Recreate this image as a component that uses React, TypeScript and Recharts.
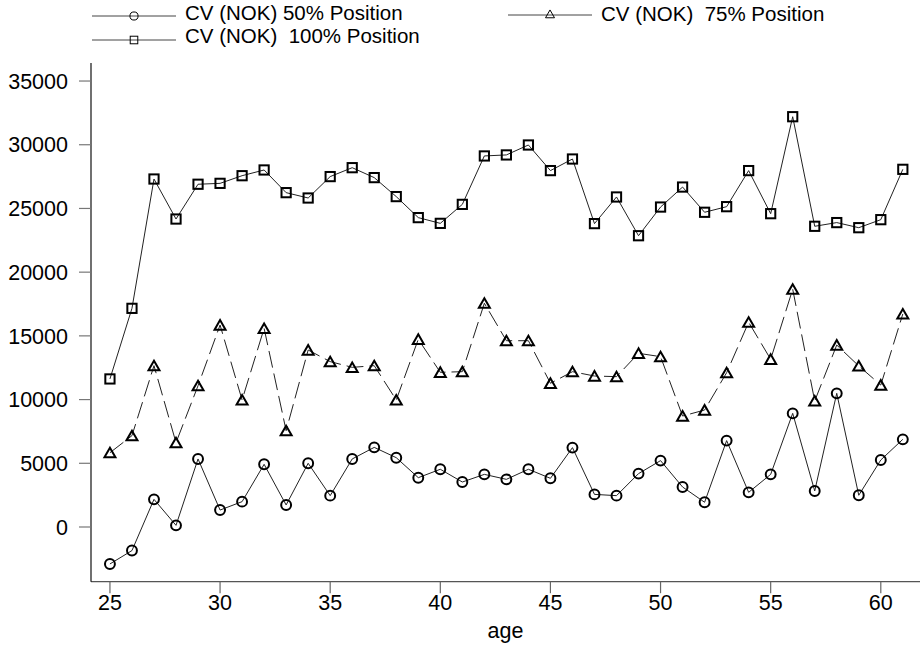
import React from 'react';
import { Legend, Line, LineChart, XAxis, YAxis } from 'recharts';

const AGES = [
  25, 26, 27, 28, 29, 30, 31, 32, 33, 34, 35, 36, 37, 38, 39, 40, 41, 42, 43,
  44, 45, 46, 47, 48, 49, 50, 51, 52, 53, 54, 55, 56, 57, 58, 59, 60, 61,
];

const CV_50 = [
  -2900, -1850, 2170, 130, 5340, 1330, 1990, 4920, 1730, 5000, 2460, 5340, 6250,
  5440, 3870, 4530, 3530, 4130, 3740, 4530, 3820, 6230, 2560, 2460, 4190, 5210,
  3140, 1940, 6780, 2720, 4130, 8920, 2830, 10490, 2490, 5260, 6880,
];

const CV_75 = [
  5830, 7170, 12660, 6620, 11090, 15850, 9970, 15590, 7560, 13890, 12980, 12530,
  12660, 9970, 14730, 12140, 12190, 17560, 14620, 14620, 11280, 12190, 11850,
  11800, 13630, 13370, 8710, 9180, 12110, 16070, 13160, 18660, 9890, 14280,
  12640, 11140, 16720,
];

const CV_100 = [
  11620, 17160, 27310, 24170, 26900, 26970, 27570, 28020, 26240, 25820, 27500,
  28200, 27420, 25930, 24280, 23830, 25320, 29120, 29200, 29980, 27970, 28880,
  23810, 25900, 22860, 25110, 26680, 24700, 25140, 27970, 24590, 32200, 23600,
  23890, 23490, 24120, 28070,
];

const X_TICKS = [25, 30, 35, 40, 45, 50, 55, 60];
const Y_TICKS = [0, 5000, 10000, 15000, 20000, 25000, 30000, 35000];

const data = AGES.map((age, i) => ({
  age,
  cv50: CV_50[i],
  cv75: CV_75[i],
  cv100: CV_100[i],
}));

const FONT = '"Liberation Sans", Arial, Helvetica, sans-serif';
const INK = '#000';

type Marker = 'circle' | 'triangle' | 'square';

function markerShape(kind: Marker, cx: number, cy: number, s: number, sw: number, key?: string) {
  if (kind === 'circle') {
    return <circle key={key} cx={cx} cy={cy} r={s * 0.45} fill="none" stroke={INK} strokeWidth={sw} />;
  }
  if (kind === 'square') {
    const h = s * 0.42;
    return (
      <rect key={key} x={cx - h} y={cy - h} width={h * 2} height={h * 2} fill="none" stroke={INK} strokeWidth={sw} />
    );
  }
  const w = s * 0.5;
  const pts = `${cx},${cy - s * 0.45} ${cx - w},${cy + s * 0.42} ${cx + w},${cy + s * 0.42}`;
  return <polygon key={key} points={pts} fill="none" stroke={INK} strokeWidth={sw} strokeLinejoin="miter" />;
}

const dotFor = (kind: Marker) => (p: any) =>
  markerShape(kind, p.cx, p.cy, 11, 2, `${kind}-${p.index}`);

const LEGEND = [
  { label: 'CV (NOK) 50% Position', marker: 'circle' as Marker, x: 92, y: 16, ty: 20 },
  { label: 'CV (NOK)  75% Position', marker: 'triangle' as Marker, x: 508, y: 15, ty: 21 },
  { label: 'CV (NOK)  100% Position', marker: 'square' as Marker, x: 92, y: 40, ty: 43 },
];

function LegendBox() {
  return (
    <svg width={920} height={50} style={{ display: 'block' }}>
      {LEGEND.map((l) => (
        <g key={l.label}>
          <line x1={l.x} x2={l.x + 84} y1={l.y} y2={l.y} stroke="#444" strokeWidth={1} />
          {markerShape(l.marker, l.x + 42, l.y - (l.marker === 'triangle' ? 1 : 0), 9, 1)}
          <text
            x={l.x + 93}
            y={l.ty}
            fontFamily={FONT}
            fontSize={20.5}
            fill={INK}
            style={{ whiteSpace: 'pre' }}
          >
            {l.label}
          </text>
        </g>
      ))}
    </svg>
  );
}

function XTick({ x, y, payload }: any) {
  return (
    <text x={x} y={y} dy="0.71em" textAnchor="middle" fontFamily={FONT} fontSize={21.5} fill={INK}>
      {payload.value}
    </text>
  );
}

function YTick({ x, y, payload }: any) {
  return (
    <text x={x} y={y} dy="0.355em" textAnchor="end" fontFamily={FONT} fontSize={21.5} fill={INK}>
      {payload.value}
    </text>
  );
}

export default function App() {
  return (
    <div style={{ position: 'absolute', left: 0, top: 0, width: 920, height: 646, background: '#fff' }}>
      <LineChart width={920} height={646} data={data} margin={{ top: 63, right: 0, bottom: 0, left: 0 }}>
        <XAxis
          dataKey="age"
          type="number"
          domain={[24.14, 61.78]}
          ticks={X_TICKS}
          allowDataOverflow
          height={64.3}
          tickSize={11.5}
          tickMargin={2}
          tick={<XTick />}
          stroke="#555"
          axisLine={{ stroke: '#555', strokeWidth: 1.2 }}
          tickLine={{ stroke: '#666', strokeWidth: 1.2 }}
          label={{
            value: 'age',
            position: 'insideBottom',
            offset: 8,
            fontFamily: FONT,
            fontSize: 21.5,
            fill: INK,
          }}
        />
        <YAxis
          type="number"
          domain={[-4293, 36415]}
          ticks={Y_TICKS}
          allowDataOverflow
          width={91}
          tickSize={12}
          tickMargin={11}
          tick={<YTick />}
          axisLine={{ stroke: '#111', strokeWidth: 1.2 }}
          tickLine={{ stroke: '#777', strokeWidth: 1.2 }}
        />
        <Legend
          layout="horizontal"
          verticalAlign="middle"
          align="center"
          wrapperStyle={{ top: 0, left: 0, width: 920, height: 50 }}
          content={() => <LegendBox />}
        />
        <Line
          type="linear"
          dataKey="cv50"
          name="CV (NOK) 50% Position"
          stroke="#222"
          strokeWidth={1}
          dot={dotFor('circle')}
          activeDot={false}
          isAnimationActive={false}
        />
        <Line
          type="linear"
          dataKey="cv75"
          name="CV (NOK)  75% Position"
          stroke="#222"
          strokeWidth={1}
          strokeDasharray="17 6"
          dot={dotFor('triangle')}
          activeDot={false}
          isAnimationActive={false}
        />
        <Line
          type="linear"
          dataKey="cv100"
          name="CV (NOK)  100% Position"
          stroke="#222"
          strokeWidth={1}
          dot={dotFor('square')}
          activeDot={false}
          isAnimationActive={false}
        />
      </LineChart>
    </div>
  );
}
